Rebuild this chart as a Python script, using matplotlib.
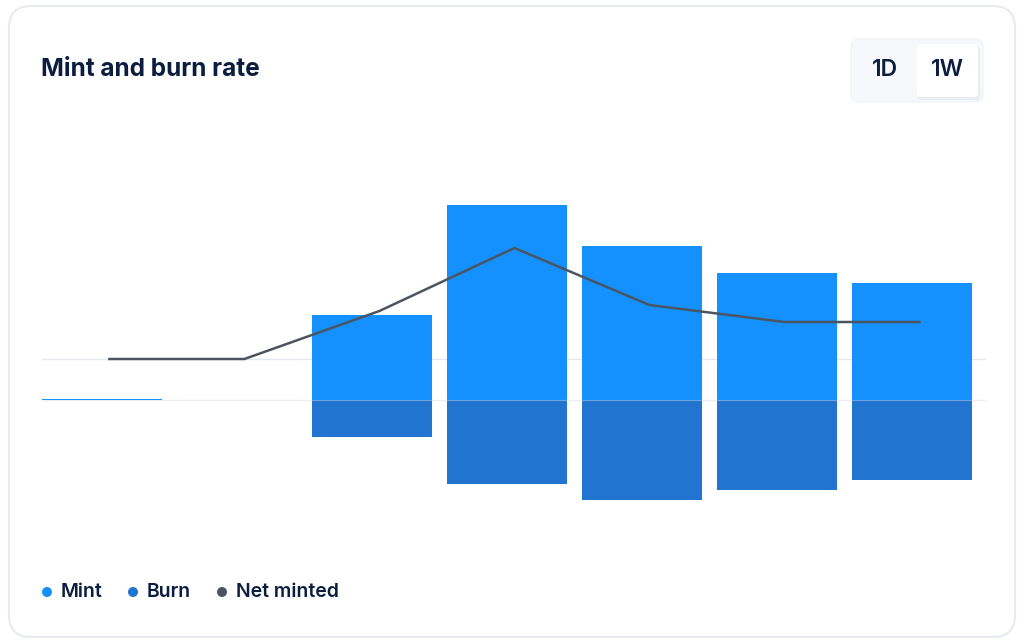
import numpy as np
import matplotlib
matplotlib.use("Agg")
import matplotlib.pyplot as plt
from matplotlib.patches import FancyBboxPatch, Circle
from matplotlib.transforms import blended_transform_factory

# values (same units for bars and line)
periods = ["W1", "W2", "W3", "W4", "W5", "W6", "W7"]
mint = [1.5, 0, 85, 195, 154, 127, 117]
burn = [0, 0, 37, 84, 100, 90, 80]
net_minted = [0, 0, 48, 111, 54, 37, 37]

MINT_C = "#1591ff"
BURN_C = "#2174d0"
NET_C = "#4b5561"
TEXT_C = "#0b1e3f"
GRID_C = "#e3e7ee"

plt.rcParams["font.family"] = ["Inter", "DejaVu Sans"]

W, H = 1024, 643
fig = plt.figure(figsize=(W / 100, H / 100), dpi=100)
fig.patch.set_facecolor("white")

# background layer in pixel coords: card, title, buttons, legend
bg = fig.add_axes([0, 0, 1, 1])
bg.set_xlim(0, W)
bg.set_ylim(H, 0)
bg.axis("off")
bg.add_patch(FancyBboxPatch((9, 6), 1006, 631, boxstyle="round,pad=0,rounding_size=22",
                            fc="white", ec="#e4e7ee", lw=1.3))
bg.text(41, 69, "Mint and burn rate", fontsize=17.6, fontweight="bold",
        color=TEXT_C, va="center", ha="left")

# 1D / 1W toggle
bg.add_patch(FancyBboxPatch((851, 39), 132, 63, boxstyle="round,pad=0,rounding_size=8",
                            fc="#f6f8fc", ec="#eef1f6", lw=0.8))
bg.add_patch(FancyBboxPatch((918, 46), 62, 54, boxstyle="round,pad=0,rounding_size=4",
                            fc="#dfe5ee", ec="none", alpha=0.6))
bg.add_patch(FancyBboxPatch((917, 44), 61, 53, boxstyle="round,pad=0,rounding_size=4",
                            fc="white", ec="none"))
bg.text(885, 70, "1D", fontsize=16.5, color=TEXT_C, ha="center", va="center", fontweight="semibold")
bg.text(947, 70, "1W", fontsize=16.5, color=TEXT_C, ha="center", va="center", fontweight="semibold")

# legend
legend_items = [("Mint", MINT_C, 47), ("Burn", BURN_C, 133), ("Net minted", NET_C, 222)]
for label, col, x in legend_items:
    bg.add_patch(Circle((x, 592), 5, fc=col, ec="none"))
    bg.text(x + 14, 592, label, fontsize=14, color=TEXT_C, va="center", ha="left",
            fontweight="semibold")

# chart axes
left, right, top, bottom = 42, 986, 180, 520
ax = fig.add_axes([left / W, 1 - bottom / H, (right - left) / W, (bottom - top) / H])
ax.patch.set_alpha(0)
x = np.arange(len(periods))
ax.bar(x, mint, width=0.89, color=MINT_C, zorder=2)
ax.bar(x, [-b for b in burn], width=0.89, color=BURN_C, zorder=2)
ax.set_xlim(-0.444, 6.548)
ax.set_ylim(-120, 220)
ax.axhline(0, color=GRID_C, lw=1, zorder=1)
ax.axhline(0, color="white", lw=0.8, alpha=0.35, zorder=3)

ax2 = ax.twinx()
ax2.patch.set_alpha(0)
ax2.set_ylim(-161, 179)
# zero line for the net series, kept behind the bars
trans = blended_transform_factory(ax.transAxes, ax2.transData)
ax.plot([0, 1], [0, 0], color=GRID_C, lw=1, transform=trans, zorder=0.5)
ax2.plot(x + 0.055, net_minted, color=NET_C, lw=1.8, solid_joinstyle="round")

for a in (ax, ax2):
    a.set_xticks([])
    a.set_yticks([])
    for s in a.spines.values():
        s.set_visible(False)

fig.savefig("out.png", dpi=100)
